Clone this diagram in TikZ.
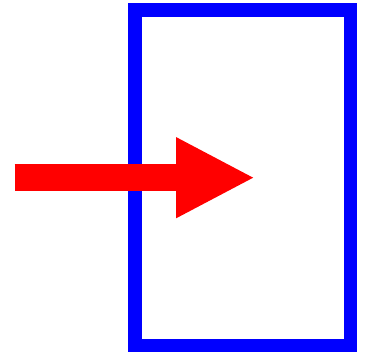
\documentclass[tikz,border=0pt]{standalone}
\usepackage{xcolor}
\usepackage{tikz}
\usetikzlibrary{arrows.meta}
\definecolor{boxblue}{HTML}{0000FF}
\definecolor{arrowred}{HTML}{FF0000}
\tikzset{boxline/.style={draw=boxblue,line width=13.4pt,inner sep=0pt},
push/.style={-{Triangle[length=79pt,width=75pt]},line width=26.7pt,arrowred}}
\begin{document}
\begin{tikzpicture}[x=1pt,y=-1pt]
\useasboundingbox (0,0) rectangle (365,353);
\node[boxline,minimum width=215.5pt,minimum height=335.7pt] (box) at (242.75,177.85) {};
\coordinate (tail) at (14.7,177.7);
\coordinate (tip) at (255,177.7);
\draw[push] (tail)--(tip);
\end{tikzpicture}
\end{document}
